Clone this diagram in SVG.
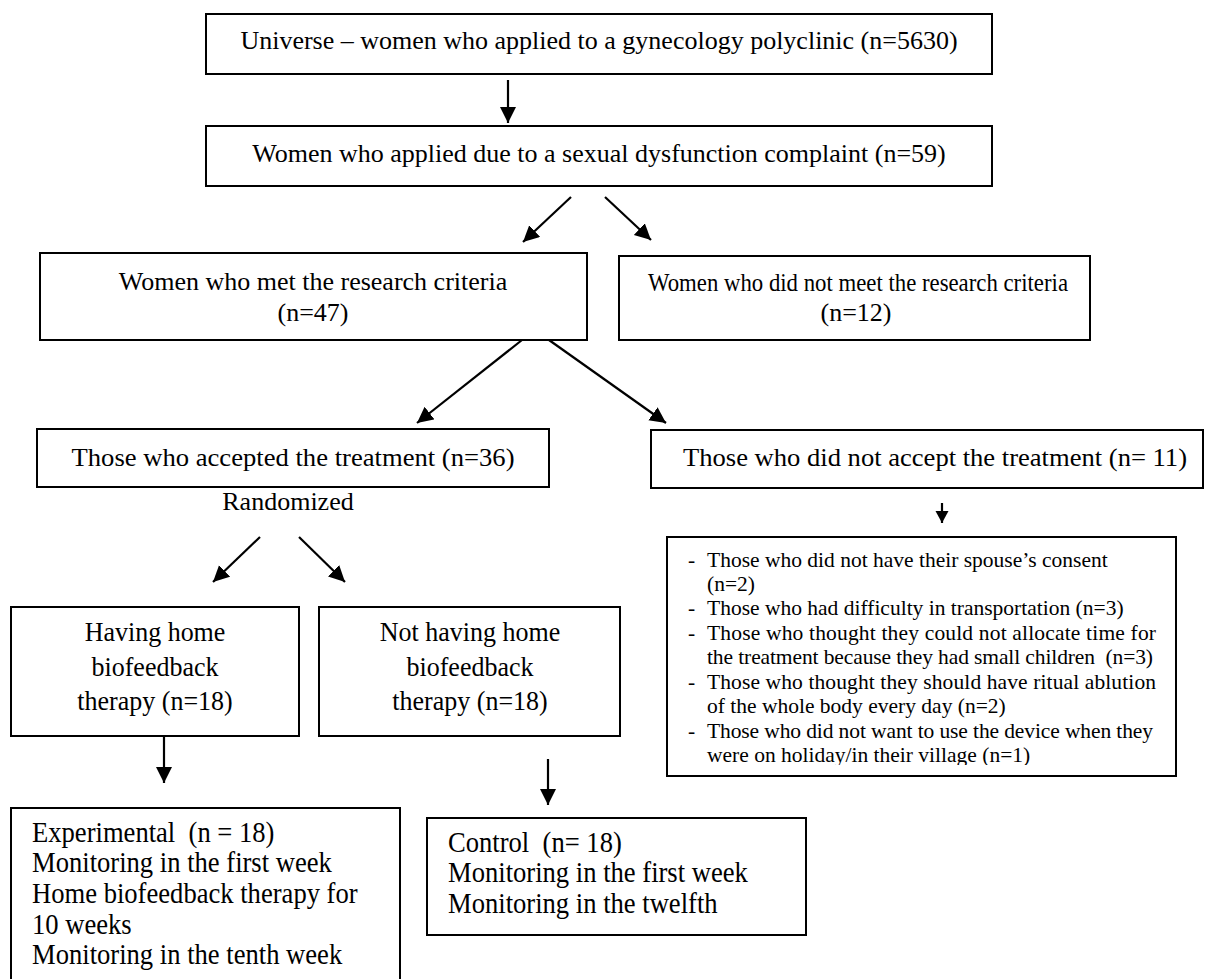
<svg xmlns="http://www.w3.org/2000/svg" width="1210" height="979" viewBox="0 0 1210 979">
<style>
.box{fill:#fff;stroke:#000;stroke-width:2}
.t{font-family:"Liberation Serif","Times New Roman",serif;font-size:26px;fill:#000}
.b{font-size:26.6px}
.c{text-anchor:middle}
.s{font-family:"Liberation Serif","Times New Roman",serif;font-size:21.5px;fill:#000}
.pre{white-space:pre}
.edge{stroke:#000;stroke-width:2.2;fill:none}
</style>
<defs>
<marker id="ah" markerUnits="userSpaceOnUse" markerWidth="17" markerHeight="17" refX="16" refY="8" orient="auto">
<path d="M0,0 L16,8 L0,16 Z" fill="#000"/>
</marker>
<marker id="ahs" markerUnits="userSpaceOnUse" markerWidth="13" markerHeight="14" refX="12" refY="6.5" orient="auto">
<path d="M0,0 L12,6.5 L0,13 Z" fill="#000"/>
</marker>
<clipPath id="clip7"><rect x="667" y="537" width="509" height="228"/></clipPath>
</defs>
<rect width="1210" height="979" fill="#fff"/>

<g id="connectors">
<line class="edge" x1="508" y1="80" x2="508" y2="123" marker-end="url(#ah)"/>
<line class="edge" x1="571" y1="197" x2="523" y2="242" marker-end="url(#ah)"/>
<line class="edge" x1="605" y1="197" x2="651" y2="240" marker-end="url(#ah)"/>
<line class="edge" x1="522" y1="340" x2="417" y2="423" marker-end="url(#ah)"/>
<line class="edge" x1="549" y1="340" x2="666" y2="423" marker-end="url(#ah)"/>
<line class="edge" x1="260" y1="537" x2="213" y2="582" marker-end="url(#ah)"/>
<line class="edge" x1="299" y1="537" x2="345" y2="582" marker-end="url(#ah)"/>
<line class="edge" x1="164" y1="737" x2="164" y2="783" marker-end="url(#ah)"/>
<line class="edge" x1="548" y1="759" x2="548" y2="805" marker-end="url(#ah)"/>
<line class="edge" x1="942" y1="503" x2="942" y2="523" marker-end="url(#ahs)"/>
</g>

<g id="universe">
<rect class="box" x="206" y="14" width="786" height="60"/>
<text class="t c" x="599" y="49">Universe – women who applied to a gynecology polyclinic (n=5630)</text>
</g>

<g id="complaint">
<rect class="box" x="206" y="126" width="786" height="60"/>
<text class="t c" x="599" y="162">Women who applied due to a sexual dysfunction complaint (n=59)</text>
</g>

<g id="met">
<rect class="box" x="40" y="253" width="547" height="87"/>
<text class="t c" x="313" y="290">Women who met the research criteria</text>
<text class="t c" x="313" y="321">(n=47)</text>
</g>

<g id="notmet">
<rect class="box" x="619" y="256" width="471" height="84"/>
<text class="t c" x="858" y="291" textLength="420" lengthAdjust="spacingAndGlyphs">Women who did not meet the research criteria</text>
<text class="t c" x="856" y="321">(n=12)</text>
</g>

<g id="accepted">
<rect class="box" x="37" y="429" width="512" height="58"/>
<text class="t c" x="293" y="466" textLength="443" lengthAdjust="spacingAndGlyphs">Those who accepted the treatment (n=36)</text>
</g>

<g id="randomized">
<text class="t c" x="288" y="510">Randomized</text>
</g>

<g id="notaccepted">
<rect class="box" x="651" y="430" width="552" height="58"/>
<text class="t c" x="935" y="466" textLength="504" lengthAdjust="spacingAndGlyphs">Those who did not accept the treatment (n= 11)</text>
</g>

<g id="reasons">
<rect class="box" x="667" y="537" width="509" height="239"/>
<g clip-path="url(#clip7)">
<text class="s" x="688" y="567">-</text>
<text class="s" x="707" y="567">Those who did not have their spouse’s consent</text>
<text class="s" x="707" y="591">(n=2)</text>
<text class="s" x="688" y="615">-</text>
<text class="s" x="707" y="615">Those who had difficulty in transportation (n=3)</text>
<text class="s" x="688" y="640">-</text>
<text class="s" x="707" y="640" textLength="449" lengthAdjust="spacing">Those who thought they could not allocate time for</text>
<text class="s pre" x="707" y="664" textLength="446" lengthAdjust="spacing">the treatment because they had small children  (n=3)</text>
<text class="s" x="688" y="689">-</text>
<text class="s" x="707" y="689" textLength="449" lengthAdjust="spacing">Those who thought they should have ritual ablution</text>
<text class="s" x="707" y="713">of the whole body every day (n=2)</text>
<text class="s" x="688" y="738">-</text>
<text class="s" x="707" y="738" textLength="446" lengthAdjust="spacing">Those who did not want to use the device when they</text>
<text class="s" x="707" y="762">were on holiday/in their village (n=1)</text>
</g>
</g>

<g id="having">
<rect class="box" x="11" y="607" width="288" height="129"/>
<text class="t c" transform="translate(155 641) scale(1 1.08)">Having home</text>
<text class="t c" transform="translate(155 676) scale(1 1.08)">biofeedback</text>
<text class="t c" transform="translate(155 710) scale(1 1.08)">therapy (n=18)</text>
</g>

<g id="nothaving">
<rect class="box" x="319" y="607" width="301" height="129"/>
<text class="t c" transform="translate(470 641) scale(1 1.08)">Not having home</text>
<text class="t c" transform="translate(470 676) scale(1 1.08)">biofeedback</text>
<text class="t c" transform="translate(470 710) scale(1 1.08)">therapy (n=18)</text>
</g>

<g id="experimental">
<rect class="box" x="11" y="808" width="389" height="190"/>
<text class="t b pre" transform="translate(32 842) scale(1 1.12)">Experimental  (n = 18)</text>
<text class="t b" transform="translate(32 872) scale(1 1.12)">Monitoring in the first week</text>
<text class="t b" transform="translate(32 903) scale(1 1.12)">Home biofeedback therapy for</text>
<text class="t b" transform="translate(32 934) scale(1 1.12)">10 weeks</text>
<text class="t b" transform="translate(32 964) scale(1 1.12)">Monitoring in the tenth week</text>
</g>

<g id="control">
<rect class="box" x="427" y="818" width="379" height="117"/>
<text class="t b pre" transform="translate(448 852) scale(1 1.12)">Control  (n= 18)</text>
<text class="t b" transform="translate(448 882) scale(1 1.12)">Monitoring in the first week</text>
<text class="t b" transform="translate(448 913) scale(1 1.12)">Monitoring in the twelfth</text>
</g>
</svg>
